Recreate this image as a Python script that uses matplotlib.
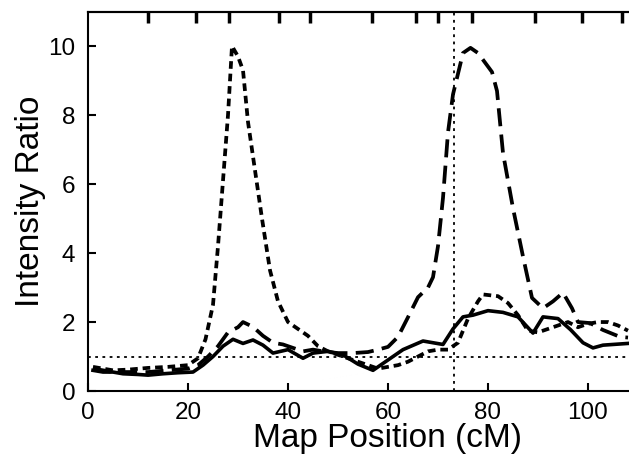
import matplotlib
matplotlib.use("Agg")
import matplotlib.pyplot as plt

plt.rcParams["font.family"] = ["Liberation Sans", "DejaVu Sans"]
plt.rcParams["lines.scale_dashes"] = False

# map position (cM) and intensity ratio
solid_x = [1, 3, 5, 7, 10, 12, 15, 18, 21, 23, 25, 27, 29, 31, 33, 35, 37, 40, 43, 45,
           48, 51, 54, 57, 60, 63, 67, 71, 73, 75, 77, 80, 83, 86, 89, 91, 94, 96.5,
           99, 101, 103, 108]
solid_y = [0.6, 0.55, 0.55, 0.5, 0.48, 0.46, 0.5, 0.53, 0.55, 0.75, 1.0, 1.3, 1.5, 1.38,
           1.48, 1.33, 1.1, 1.2, 0.95, 1.1, 1.15, 1.05, 0.78, 0.6, 0.9, 1.2, 1.45, 1.35,
           1.8, 2.15, 2.2, 2.33, 2.28, 2.15, 1.68, 2.15, 2.1, 1.78, 1.4, 1.25, 1.33, 1.38]

short_x = [1, 3, 5, 8, 12, 16, 20, 22, 23.5, 25, 26, 27, 28, 28.8, 30, 31, 32, 33.4, 34.8,
           36.4, 38, 40, 42, 44, 46, 48, 50, 52, 54, 56, 58, 60, 62, 64, 66, 68, 70, 72,
           74, 76, 78, 79, 82, 84, 86, 88, 90, 92, 94, 96, 98, 100, 102, 104, 106, 108]
short_y = [0.7, 0.65, 0.6, 0.62, 0.67, 0.7, 0.75, 0.95, 1.5, 2.5, 4.2, 6.1, 8.0, 10.0,
           9.7, 9.3, 7.8, 6.4, 5.0, 3.5, 2.6, 2.0, 1.8, 1.6, 1.3, 1.15, 1.05, 0.95, 0.85,
           0.75, 0.65, 0.7, 0.75, 0.85, 1.0, 1.15, 1.2, 1.2, 1.4, 2.1, 2.6, 2.8, 2.75,
           2.55, 2.2, 1.75, 1.7, 1.8, 1.9, 2.0, 1.85, 1.95, 2.0, 2.0, 1.9, 1.75]

long_x = [1, 3, 5, 8, 12, 16, 20, 22, 24, 26, 28, 30, 31, 33, 35, 37, 39, 41, 43, 45, 47,
          50, 53, 56, 58, 60, 62, 64, 66, 68, 69, 70, 71, 72, 73, 75, 76.5, 78, 80.8,
          81.8, 83, 85, 87, 88.8, 91, 93, 95, 96.8, 98, 100.4, 103, 106.4, 108]
long_y = [0.65, 0.6, 0.55, 0.55, 0.55, 0.6, 0.65, 0.75, 1.0, 1.3, 1.7, 1.85, 2.0, 1.86,
          1.6, 1.4, 1.35, 1.25, 1.15, 1.2, 1.15, 1.1, 1.1, 1.13, 1.2, 1.28, 1.57, 2.14,
          2.72, 3.0, 3.3, 4.2, 5.6, 7.5, 8.6, 9.8, 9.95, 9.8, 9.25, 8.7, 6.9, 5.3, 3.9,
          2.7, 2.4, 2.6, 2.85, 2.4, 2.0, 1.97, 1.77, 1.57, 1.55]

marker_pos = [12, 21.6, 28.2, 38.2, 44.4, 56.8, 65.6, 70, 76.8, 89.4, 98.8, 106.8]
threshold = 1.0
peak_line = 73.2

fig = plt.figure(figsize=(6.29, 4.59), dpi=100)
ax = fig.add_axes([0.1399, 0.1481, 0.8601, 0.8258])

ax.axhline(threshold, color="black", lw=1.3, dashes=(2, 3.2))
ax.axvline(peak_line, color="black", lw=1.3, dashes=(2, 3.2))

ax.plot(solid_x, solid_y, color="black", lw=2.6)
ax.plot(short_x, short_y, color="black", lw=2.7, dashes=(5.5, 3.5))
ax.plot(long_x, long_y, color="black", lw=2.7, dashes=(13, 6))

ax.set_xlim(0, 108.2)
ax.set_ylim(0, 10.99)
ax.set_xticks(range(0, 101, 20))
ax.set_yticks(range(0, 11, 2))
ax.tick_params(direction="in", length=6, width=1.5, labelsize=17.5, pad=8)
ax.tick_params(axis="y", pad=9)
for side in ["left", "bottom", "top"]:
    ax.spines[side].set_linewidth(1.5)
ax.spines["right"].set_visible(False)

top = ax.secondary_xaxis("top")
top.set_xticks(marker_pos, labels=[])
top.tick_params(direction="in", length=8, width=2.5)
top.spines["top"].set_linewidth(1.5)

ax.set_xlabel("Map Position (cM)", fontsize=24)
ax.xaxis.set_label_coords(0.5545, -0.085)
ax.set_ylabel("Intensity Ratio", fontsize=24)
ax.yaxis.set_label_coords(-0.078, 0.5)

fig.savefig("out.png", dpi=100, facecolor="white")
